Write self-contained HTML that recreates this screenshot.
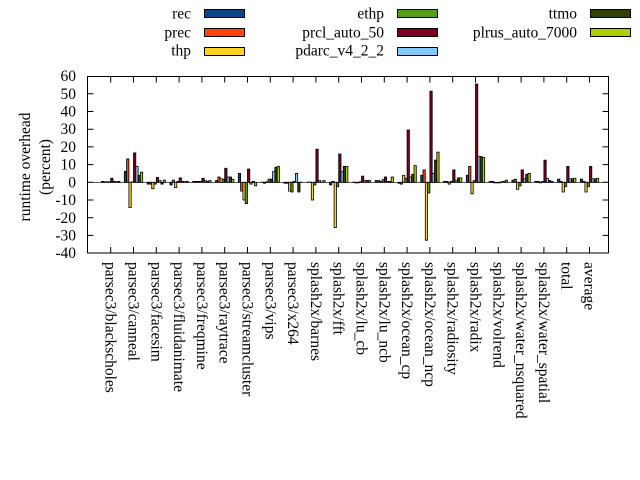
<!DOCTYPE html>
<html><head><meta charset="utf-8"><style>
html,body{margin:0;padding:0;background:#fff;}
svg{display:block;font-family:"Liberation Serif",serif;font-size:15.5px;}
.b rect{stroke:#000;stroke-width:0.8px;vector-effect:non-scaling-stroke;}
.c0{fill:#0a4585}.c1{fill:#ff420e}.c2{fill:#ffd320}.c3{fill:#579d1c}.c4{fill:#7e0021}.c5{fill:#83caff}.c6{fill:#314004}.c7{fill:#aecf00}
</style></head><body>
<svg width="640" height="480" xmlns="http://www.w3.org/2000/svg">
<rect width="640" height="480" fill="#fff"/>
<line x1="87.5" x2="608.5" y1="182.3" y2="182.3" stroke="#000" stroke-width="0.6"/>
<g class="b">
<g transform="translate(110.7,182.3) scale(1,-1.77)"><rect class="c0" x="-9.2" y="0" width="2.3" height="0.5"/><rect class="c1" x="-6.9" y="0" width="2.3" height="0.3"/><rect class="c2" x="-4.6" y="0" width="2.3" height="0.3"/><rect class="c3" x="-2.3" y="0" width="2.3" height="0.3"/><rect class="c4" x="0" y="0" width="2.3" height="2.3"/><rect class="c5" x="2.3" y="0" width="2.3" height="0.5"/><rect class="c6" x="4.6" y="0" width="2.3" height="0.3"/><rect class="c7" x="6.9" y="0" width="2.3" height="0.5"/></g>
<g transform="translate(133.5,182.3) scale(1,-1.77)"><rect class="c0" x="-9.2" y="0" width="2.3" height="6.2"/><rect class="c1" x="-6.9" y="0" width="2.3" height="13.2"/><rect class="c2" x="-4.6" y="-14.3" width="2.3" height="14.3"/><rect class="c3" x="-2.3" y="0" width="2.3" height="0.2"/><rect class="c4" x="0" y="0" width="2.3" height="16.6"/><rect class="c5" x="2.3" y="0" width="2.3" height="9"/><rect class="c6" x="4.6" y="0" width="2.3" height="4"/><rect class="c7" x="6.9" y="0" width="2.3" height="5.7"/></g>
<g transform="translate(156.3,182.3) scale(1,-1.77)"><rect class="c0" x="-9.2" y="-1" width="2.3" height="1"/><rect class="c1" x="-6.9" y="-1" width="2.3" height="1"/><rect class="c2" x="-4.6" y="-3.6" width="2.3" height="3.6"/><rect class="c3" x="-2.3" y="-1" width="2.3" height="1"/><rect class="c4" x="0" y="0" width="2.3" height="2.8"/><rect class="c5" x="2.3" y="0" width="2.3" height="1"/><rect class="c6" x="4.6" y="-1" width="2.3" height="1"/><rect class="c7" x="6.9" y="0" width="2.3" height="1.2"/></g>
<g transform="translate(179.1,182.3) scale(1,-1.77)"><rect class="c0" x="-9.2" y="-1.5" width="2.3" height="1.5"/><rect class="c1" x="-6.9" y="0" width="2.3" height="1.2"/><rect class="c2" x="-4.6" y="-3" width="2.3" height="3"/><rect class="c3" x="-2.3" y="0" width="2.3" height="0.5"/><rect class="c4" x="0" y="0" width="2.3" height="2.5"/><rect class="c5" x="2.3" y="0" width="2.3" height="0.5"/><rect class="c6" x="4.6" y="0" width="2.3" height="0.3"/><rect class="c7" x="6.9" y="0" width="2.3" height="0.5"/></g>
<g transform="translate(201.9,182.3) scale(1,-1.77)"><rect class="c0" x="-9.2" y="0" width="2.3" height="0.5"/><rect class="c1" x="-6.9" y="0" width="2.3" height="0.5"/><rect class="c2" x="-4.6" y="0" width="2.3" height="0.5"/><rect class="c3" x="-2.3" y="0" width="2.3" height="0.5"/><rect class="c4" x="0" y="0" width="2.3" height="2.3"/><rect class="c5" x="2.3" y="0" width="2.3" height="1"/><rect class="c6" x="4.6" y="0" width="2.3" height="0.5"/><rect class="c7" x="6.9" y="0" width="2.3" height="1"/></g>
<g transform="translate(224.7,182.3) scale(1,-1.77)"><rect class="c0" x="-9.2" y="0" width="2.3" height="1"/><rect class="c1" x="-6.9" y="0" width="2.3" height="3"/><rect class="c2" x="-4.6" y="0" width="2.3" height="2"/><rect class="c3" x="-2.3" y="0" width="2.3" height="1.8"/><rect class="c4" x="0" y="0" width="2.3" height="7.9"/><rect class="c5" x="2.3" y="0" width="2.3" height="3"/><rect class="c6" x="4.6" y="0" width="2.3" height="3"/><rect class="c7" x="6.9" y="0" width="2.3" height="1.7"/></g>
<g transform="translate(247.5,182.3) scale(1,-1.77)"><rect class="c0" x="-9.2" y="0" width="2.3" height="5"/><rect class="c1" x="-6.9" y="-5" width="2.3" height="5"/><rect class="c2" x="-4.6" y="-10" width="2.3" height="10"/><rect class="c3" x="-2.3" y="-12" width="2.3" height="12"/><rect class="c4" x="0" y="0" width="2.3" height="7.5"/><rect class="c5" x="2.3" y="-1" width="2.3" height="1"/><rect class="c6" x="4.6" y="0" width="2.3" height="0.5"/><rect class="c7" x="6.9" y="-2" width="2.3" height="2"/></g>
<g transform="translate(270.3,182.3) scale(1,-1.77)"><rect class="c0" x="-9.2" y="0" width="2.3" height="0.1"/><rect class="c1" x="-6.9" y="-0.5" width="2.3" height="0.5"/><rect class="c2" x="-4.6" y="0" width="2.3" height="0.3"/><rect class="c3" x="-2.3" y="0" width="2.3" height="1.8"/><rect class="c4" x="0" y="0" width="2.3" height="1.8"/><rect class="c5" x="2.3" y="0" width="2.3" height="6"/><rect class="c6" x="4.6" y="0" width="2.3" height="8.5"/><rect class="c7" x="6.9" y="0" width="2.3" height="9"/></g>
<g transform="translate(293.1,182.3) scale(1,-1.77)"><rect class="c0" x="-9.2" y="-0.5" width="2.3" height="0.5"/><rect class="c1" x="-6.9" y="-0.5" width="2.3" height="0.5"/><rect class="c2" x="-4.6" y="-5" width="2.3" height="5"/><rect class="c3" x="-2.3" y="-5.5" width="2.3" height="5.5"/><rect class="c4" x="0" y="0" width="2.3" height="0.5"/><rect class="c5" x="2.3" y="0" width="2.3" height="5"/><rect class="c6" x="4.6" y="-5.5" width="2.3" height="5.5"/><rect class="c7" x="6.9" y="0" width="2.3" height="0.1"/></g>
<g transform="translate(315.9,182.3) scale(1,-1.77)"><rect class="c0" x="-9.2" y="0" width="2.3" height="0.1"/><rect class="c1" x="-6.9" y="0" width="2.3" height="0.1"/><rect class="c2" x="-4.6" y="-10" width="2.3" height="10"/><rect class="c3" x="-2.3" y="-1.5" width="2.3" height="1.5"/><rect class="c4" x="0" y="0" width="2.3" height="18.7"/><rect class="c5" x="2.3" y="0" width="2.3" height="1"/><rect class="c6" x="4.6" y="0" width="2.3" height="0.1"/><rect class="c7" x="6.9" y="0" width="2.3" height="1"/></g>
<g transform="translate(338.7,182.3) scale(1,-1.77)"><rect class="c0" x="-9.2" y="-1.5" width="2.3" height="1.5"/><rect class="c1" x="-6.9" y="0" width="2.3" height="0.5"/><rect class="c2" x="-4.6" y="-25.5" width="2.3" height="25.5"/><rect class="c3" x="-2.3" y="-2.5" width="2.3" height="2.5"/><rect class="c4" x="0" y="0" width="2.3" height="16"/><rect class="c5" x="2.3" y="0" width="2.3" height="6"/><rect class="c6" x="4.6" y="0" width="2.3" height="9"/><rect class="c7" x="6.9" y="0" width="2.3" height="9"/></g>
<g transform="translate(361.5,182.3) scale(1,-1.77)"><rect class="c0" x="-9.2" y="0" width="2.3" height="0.1"/><rect class="c1" x="-6.9" y="-0.3" width="2.3" height="0.3"/><rect class="c2" x="-4.6" y="-0.3" width="2.3" height="0.3"/><rect class="c3" x="-2.3" y="0" width="2.3" height="0.3"/><rect class="c4" x="0" y="0" width="2.3" height="3.5"/><rect class="c5" x="2.3" y="0" width="2.3" height="1"/><rect class="c6" x="4.6" y="0" width="2.3" height="1"/><rect class="c7" x="6.9" y="0" width="2.3" height="1"/></g>
<g transform="translate(384.3,182.3) scale(1,-1.77)"><rect class="c0" x="-9.2" y="0" width="2.3" height="1"/><rect class="c1" x="-6.9" y="0" width="2.3" height="1"/><rect class="c2" x="-4.6" y="0" width="2.3" height="0.5"/><rect class="c3" x="-2.3" y="0" width="2.3" height="1.5"/><rect class="c4" x="0" y="0" width="2.3" height="3"/><rect class="c5" x="2.3" y="0" width="2.3" height="0.5"/><rect class="c6" x="4.6" y="0" width="2.3" height="0.5"/><rect class="c7" x="6.9" y="0" width="2.3" height="3"/></g>
<g transform="translate(407.1,182.3) scale(1,-1.77)"><rect class="c0" x="-9.2" y="-0.5" width="2.3" height="0.5"/><rect class="c1" x="-6.9" y="-1" width="2.3" height="1"/><rect class="c2" x="-4.6" y="0" width="2.3" height="4"/><rect class="c3" x="-2.3" y="0" width="2.3" height="2.3"/><rect class="c4" x="0" y="0" width="2.3" height="29.5"/><rect class="c5" x="2.3" y="0" width="2.3" height="3"/><rect class="c6" x="4.6" y="0" width="2.3" height="4.5"/><rect class="c7" x="6.9" y="0" width="2.3" height="9.5"/></g>
<g transform="translate(429.9,182.3) scale(1,-1.77)"><rect class="c0" x="-9.2" y="0" width="2.3" height="4"/><rect class="c1" x="-6.9" y="0" width="2.3" height="7"/><rect class="c2" x="-4.6" y="-32.7" width="2.3" height="32.7"/><rect class="c3" x="-2.3" y="-6" width="2.3" height="6"/><rect class="c4" x="0" y="0" width="2.3" height="51.5"/><rect class="c5" x="2.3" y="0" width="2.3" height="5"/><rect class="c6" x="4.6" y="0" width="2.3" height="12.5"/><rect class="c7" x="6.9" y="0" width="2.3" height="17"/></g>
<g transform="translate(452.7,182.3) scale(1,-1.77)"><rect class="c0" x="-9.2" y="0" width="2.3" height="0.5"/><rect class="c1" x="-6.9" y="0" width="2.3" height="0.5"/><rect class="c2" x="-4.6" y="-1" width="2.3" height="1"/><rect class="c3" x="-2.3" y="0" width="2.3" height="0.5"/><rect class="c4" x="0" y="0" width="2.3" height="7"/><rect class="c5" x="2.3" y="0" width="2.3" height="1"/><rect class="c6" x="4.6" y="0" width="2.3" height="2.5"/><rect class="c7" x="6.9" y="0" width="2.3" height="2.5"/></g>
<g transform="translate(475.5,182.3) scale(1,-1.77)"><rect class="c0" x="-9.2" y="0" width="2.3" height="4"/><rect class="c1" x="-6.9" y="0" width="2.3" height="9"/><rect class="c2" x="-4.6" y="-6.5" width="2.3" height="6.5"/><rect class="c3" x="-2.3" y="0" width="2.3" height="1"/><rect class="c4" x="0" y="0" width="2.3" height="55.5"/><rect class="c5" x="2.3" y="0" width="2.3" height="14.7"/><rect class="c6" x="4.6" y="0" width="2.3" height="14.5"/><rect class="c7" x="6.9" y="0" width="2.3" height="14"/></g>
<g transform="translate(498.3,182.3) scale(1,-1.77)"><rect class="c0" x="-9.2" y="0" width="2.3" height="0.5"/><rect class="c1" x="-6.9" y="0" width="2.3" height="0.5"/><rect class="c2" x="-4.6" y="-0.3" width="2.3" height="0.3"/><rect class="c3" x="-2.3" y="-0.3" width="2.3" height="0.3"/><rect class="c4" x="0" y="-0.3" width="2.3" height="0.3"/><rect class="c5" x="2.3" y="0" width="2.3" height="0.3"/><rect class="c6" x="4.6" y="0" width="2.3" height="0.5"/><rect class="c7" x="6.9" y="0" width="2.3" height="1.2"/></g>
<g transform="translate(521.1,182.3) scale(1,-1.77)"><rect class="c0" x="-9.2" y="0" width="2.3" height="1.2"/><rect class="c1" x="-6.9" y="0" width="2.3" height="1.7"/><rect class="c2" x="-4.6" y="-4" width="2.3" height="4"/><rect class="c3" x="-2.3" y="-2" width="2.3" height="2"/><rect class="c4" x="0" y="0" width="2.3" height="7"/><rect class="c5" x="2.3" y="0" width="2.3" height="2"/><rect class="c6" x="4.6" y="0" width="2.3" height="4.5"/><rect class="c7" x="6.9" y="0" width="2.3" height="5"/></g>
<g transform="translate(543.9,182.3) scale(1,-1.77)"><rect class="c0" x="-9.2" y="0" width="2.3" height="0.5"/><rect class="c1" x="-6.9" y="0" width="2.3" height="0.5"/><rect class="c2" x="-4.6" y="-0.3" width="2.3" height="0.3"/><rect class="c3" x="-2.3" y="0" width="2.3" height="0.5"/><rect class="c4" x="0" y="0" width="2.3" height="12.5"/><rect class="c5" x="2.3" y="0" width="2.3" height="2.3"/><rect class="c6" x="4.6" y="0" width="2.3" height="1"/><rect class="c7" x="6.9" y="0" width="2.3" height="0.5"/></g>
<g transform="translate(566.7,182.3) scale(1,-1.77)"><rect class="c0" x="-9.2" y="0" width="2.3" height="1.8"/><rect class="c1" x="-6.9" y="0" width="2.3" height="0.5"/><rect class="c2" x="-4.6" y="-5.5" width="2.3" height="5.5"/><rect class="c3" x="-2.3" y="-2.5" width="2.3" height="2.5"/><rect class="c4" x="0" y="0" width="2.3" height="9"/><rect class="c5" x="2.3" y="0" width="2.3" height="2"/><rect class="c6" x="4.6" y="0" width="2.3" height="2"/><rect class="c7" x="6.9" y="0" width="2.3" height="2.3"/></g>
<g transform="translate(589.5,182.3) scale(1,-1.77)"><rect class="c0" x="-9.2" y="0" width="2.3" height="1.8"/><rect class="c1" x="-6.9" y="0" width="2.3" height="0.5"/><rect class="c2" x="-4.6" y="-5.5" width="2.3" height="5.5"/><rect class="c3" x="-2.3" y="-2.5" width="2.3" height="2.5"/><rect class="c4" x="0" y="0" width="2.3" height="9"/><rect class="c5" x="2.3" y="0" width="2.3" height="2"/><rect class="c6" x="4.6" y="0" width="2.3" height="2"/><rect class="c7" x="6.9" y="0" width="2.3" height="2.3"/></g>
</g>
<rect x="87.5" y="76.5" width="521" height="176.5" fill="none" stroke="#000" stroke-width="1"/>
<path stroke="#000" stroke-width="1" fill="none" d="
M110.7 253V247M110.7 76.5V82.5M133.5 253V247M133.5 76.5V82.5M156.3 253V247M156.3 76.5V82.5M179.1 253V247M179.1 76.5V82.5
M201.9 253V247M201.9 76.5V82.5M224.7 253V247M224.7 76.5V82.5M247.5 253V247M247.5 76.5V82.5M270.3 253V247M270.3 76.5V82.5
M293.1 253V247M293.1 76.5V82.5M315.9 253V247M315.9 76.5V82.5M338.7 253V247M338.7 76.5V82.5M361.5 253V247M361.5 76.5V82.5
M384.3 253V247M384.3 76.5V82.5M407.1 253V247M407.1 76.5V82.5M429.9 253V247M429.9 76.5V82.5M452.7 253V247M452.7 76.5V82.5
M475.5 253V247M475.5 76.5V82.5M498.3 253V247M498.3 76.5V82.5M521.1 253V247M521.1 76.5V82.5M543.9 253V247M543.9 76.5V82.5
M566.7 253V247M566.7 76.5V82.5M589.5 253V247M589.5 76.5V82.5
M87.5 93.8H93.5M87.5 111.5H93.5M87.5 129.2H93.5M87.5 146.9H93.5M87.5 164.6H93.5M87.5 182.3H93.5M87.5 200H93.5M87.5 217.7H93.5M87.5 235.4H93.5
M608.5 93.8H602.5M608.5 111.5H602.5M608.5 129.2H602.5M608.5 146.9H602.5M608.5 164.6H602.5M608.5 182.3H602.5M608.5 200H602.5M608.5 217.7H602.5M608.5 235.4H602.5"/>
<g text-anchor="end">
<text x="76" y="81">60</text><text x="76" y="99">50</text><text x="76" y="116.5">40</text><text x="76" y="134">30</text><text x="76" y="152">20</text><text x="76" y="169.5">10</text><text x="76" y="187.5">0</text><text x="76" y="205">-10</text><text x="76" y="223">-20</text><text x="76" y="240.5">-30</text><text x="76" y="258">-40</text>
</g>
<g>
<text transform="translate(105.7,262) rotate(90)">parsec3/blackscholes</text>
<text transform="translate(128.5,262) rotate(90)">parsec3/canneal</text>
<text transform="translate(151.3,262) rotate(90)">parsec3/facesim</text>
<text transform="translate(174.1,262) rotate(90)">parsec3/fluidanimate</text>
<text transform="translate(196.9,262) rotate(90)">parsec3/freqmine</text>
<text transform="translate(219.7,262) rotate(90)">parsec3/raytrace</text>
<text transform="translate(242.5,262) rotate(90)">parsec3/streamcluster</text>
<text transform="translate(265.3,262) rotate(90)">parsec3/vips</text>
<text transform="translate(288.1,262) rotate(90)">parsec3/x264</text>
<text transform="translate(310.9,262) rotate(90)">splash2x/barnes</text>
<text transform="translate(333.7,262) rotate(90)">splash2x/fft</text>
<text transform="translate(356.5,262) rotate(90)">splash2x/lu_cb</text>
<text transform="translate(379.3,262) rotate(90)">splash2x/lu_ncb</text>
<text transform="translate(402.1,262) rotate(90)">splash2x/ocean_cp</text>
<text transform="translate(424.9,262) rotate(90)">splash2x/ocean_ncp</text>
<text transform="translate(447.7,262) rotate(90)">splash2x/radiosity</text>
<text transform="translate(470.5,262) rotate(90)">splash2x/radix</text>
<text transform="translate(493.3,262) rotate(90)">splash2x/volrend</text>
<text transform="translate(516.1,262) rotate(90)">splash2x/water_nsquared</text>
<text transform="translate(538.9,262) rotate(90)">splash2x/water_spatial</text>
<text transform="translate(561.7,262) rotate(90)">total</text>
<text transform="translate(584.5,262) rotate(90)">average</text>
</g>
<g text-anchor="end">
<text x="191" y="18.5">rec</text><text x="191" y="37.5">prec</text><text x="191" y="55.5">thp</text>
<text x="384" y="18.5">ethp</text><text x="384" y="37.5">prcl_auto_50</text><text x="384" y="55.5">pdarc_v4_2_2</text>
<text x="577" y="18.5">ttmo</text><text x="577" y="37.5">plrus_auto_7000</text>
</g>
<g stroke="#000" stroke-width="1">
<rect x="204.5" y="9.5" width="40" height="8" fill="#0a4585"/>
<rect x="204.5" y="28.5" width="40" height="8" fill="#ff420e"/>
<rect x="204.5" y="47.5" width="40" height="8" fill="#ffd320"/>
<rect x="397.5" y="9.5" width="40" height="8" fill="#579d1c"/>
<rect x="397.5" y="28.5" width="40" height="8" fill="#7e0021"/>
<rect x="397.5" y="47.5" width="40" height="8" fill="#83caff"/>
<rect x="590.5" y="9.5" width="40" height="8" fill="#314004"/>
<rect x="590.5" y="28.5" width="40" height="8" fill="#aecf00"/>
</g>
<text transform="translate(30,167) rotate(-90)" text-anchor="middle">runtime overhead</text>
<text transform="translate(50,167) rotate(-90)" text-anchor="middle">(percent)</text>
</svg>
</body></html>
